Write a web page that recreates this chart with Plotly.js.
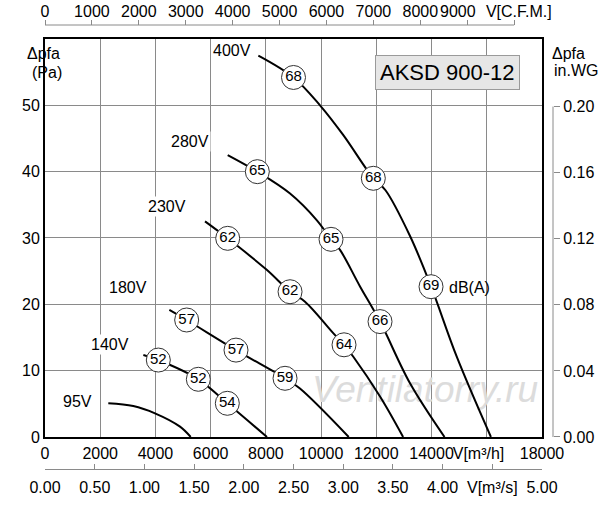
<!DOCTYPE html>
<html><head><meta charset="utf-8">
<script src="https://cdn.plot.ly/plotly-3.0.1.min.js"></script>
<style>html,body{margin:0;padding:0;background:#fff;}</style>
</head><body><div id="chart" style="width:600px;height:505px;"></div>
<script>
// ---- data (flow in m3/h, pressure in Pa) ----
const v400x = [7727, 9000, 9960, 10805, 11891, 12332, 13220, 13981, 14912, 16150];
const v400y = [57.5, 54.2, 50.0, 45.5, 39.0, 37.2, 30.3, 22.7, 12.1, 0];
const v280x = [6617, 7690, 8875, 9840, 10359, 10685, 11409, 12134, 13220, 14470];
const v280y = [42.5, 40.0, 36.7, 32.7, 29.8, 28.2, 22.7, 17.4, 8.1, 0];
const v230x = [5795, 6617, 8030, 8875, 9417, 10431, 10830, 11167, 12134, 12970];
const v230y = [32.5, 29.95, 25.2, 21.9, 20.4, 15.7, 13.9, 12.1, 6.1, 0];
const v180x = [4503, 5131, 6918, 8693, 9235, 11000];
const v180y = [19.15, 17.64, 13.1, 8.85, 7.3, 0];
const v140x = [3562, 4104, 5553, 6603, 8040];
const v140y = [12.36, 11.6, 8.7, 5.08, 0];
const v95x = [2293, 3197, 3984, 4890, 5277];
const v95y = [5.08, 4.67, 3.57, 1.56, 0];

const dbX = [9000, 11891, 13981, 7690, 10359, 12134, 6617, 8875, 10830, 5131, 6918, 8693, 4104, 5553, 6603];
const dbY = [54.2, 39.0, 22.66, 40.0, 29.8, 17.4, 29.95, 21.9, 13.9, 17.64, 13.1, 8.85, 11.6, 8.7, 5.08];
const dbText = ['68','68','69','65','65','66','62','62','64','57','57','59','52','52','54'];

const voltLabels = ['400V','280V','230V','180V','140V','95V'];

const gridX = [0,2000,4000,6000,8000,10000,12000,14000,16000,18000];
const flowLabelVals = [0,2000,4000,6000,8000,10000,12000,14000,15700,18000];
const flowLabels = ['0','2000','4000','6000','8000','10000','12000','14000','V[m³/h]','18000'];
const m3sVals = [0,0.5,1,1.5,2,2.5,3,3.5,4,4.5,5];
const m3sLabels = ['0.00','0.50','1.00','1.50','2.00','2.50','3.00','3.50','4.00','V[m³/s]','5.00'];
const cfmTicks = [0,1000,2000,3000,4000,5000,6000,7000,8000,9000,10000];
const cfmLabelVals = [0,1000,2000,3000,4000,5000,6000,7000,8000,8800,10100];
const cfmLabels = ['0','1000','2000','3000','4000','5000','6000','7000','8000','9000','V[C.F.M.]'];
const paVals = [0,10,20,30,40,50];
const paLabels = ['0','10','20','30','40','50'];
const wgVals = [0,0.04,0.08,0.12,0.16,0.20];
const wgLabels = ['0.00','0.04','0.08','0.12','0.16','0.20'];

const M3H_PER_CFM = 1.69901;
const PA_PER_INWG = 249.089;

const FONT = 'Liberation Sans, Arial, Helvetica, sans-serif';
const GRID = '#8a8a8a';
const AUX = '#8a8a8a';

function curve(x, y) {
  return {x: x, y: y, mode: 'lines', type: 'scatter', xaxis: 'x', yaxis: 'y',
    line: {color: '#000', width: 2, shape: 'spline', smoothing: 1}, hoverinfo: 'skip'};
}

const traces = [
  {x: [13763], y: [6.6], mode: 'text', text: ['Ventilatorry.ru'], type: 'scatter',
   textfont: {family: FONT, size: 37, color: '#dcdcdc', style: 'italic'}, hoverinfo: 'skip'},
  curve(v400x, v400y), curve(v280x, v280y), curve(v230x, v230y),
  curve(v180x, v180y), curve(v140x, v140y), curve(v95x, v95y),
  {x: dbX, y: dbY, text: dbText, mode: 'markers+text', type: 'scatter', textposition: 'middle center',
   marker: {size: 24, color: '#fff', line: {color: '#333', width: 1}},
   textfont: {family: FONT, size: 15, color: '#000'}, hoverinfo: 'skip'},
  {x: [], y: [], xaxis: 'x2', yaxis: 'y', type: 'scatter'},
  {x: [], y: [], xaxis: 'x3', yaxis: 'y', type: 'scatter'},
  {x: [], y: [], xaxis: 'x4', yaxis: 'y', type: 'scatter'},
  {x: [], y: [], xaxis: 'x5', yaxis: 'y', type: 'scatter'},
  {x: [], y: [], xaxis: 'x', yaxis: 'y2', type: 'scatter'}
];

const voltPos = [[6773, 58.3], [5252, 44.6], [4418, 34.7], [3006, 22.6], [2372, 13.9], [1184, 5.3]];
const annotations = voltLabels.map((t, i) => ({
  x: voltPos[i][0], y: voltPos[i][1], xref: 'x', yref: 'y', text: t, showarrow: false,
  bgcolor: '#fff', borderpad: 1, font: {family: FONT, size: 16, color: '#000'}
}));
annotations.push(
  {x: 14550, y: 22.6, xref: 'x', yref: 'y', xanchor: 'left', text: 'dB(A)', showarrow: false,
   font: {family: FONT, size: 16, color: '#000'}},
  {x: 14560, y: 55.0, xref: 'x', yref: 'y', text: 'AKSD 900-12', showarrow: false,
   bgcolor: '#e6e6e6', bordercolor: '#9a9a9a', borderwidth: 1, borderpad: 4,
   font: {family: FONT, size: 22, color: '#000'}},
  {x: -0.0394, y: 0.9595, xref: 'paper', yref: 'paper', text: 'Δpfa', showarrow: false,
   font: {family: FONT, size: 16, color: '#000'}},
  {x: -0.0305, y: 0.9167, xref: 'paper', yref: 'paper', text: '(Pa)', showarrow: false,
   font: {family: FONT, size: 16, color: '#000'}},
  {x: 0.994, y: 0.9595, xref: 'paper', yref: 'paper', xanchor: 'left', text: 'Δpfa', showarrow: false,
   font: {family: FONT, size: 16, color: '#000'}},
  {x: 0.998, y: 0.9212, xref: 'paper', yref: 'paper', xanchor: 'left', text: 'in.WG', showarrow: false,
   font: {family: FONT, size: 16, color: '#000'}}
);

const cfmRange = [0, 18000 / M3H_PER_CFM];

const layout = {
  width: 600, height: 505,
  margin: {l: 45, r: 47, t: 25, b: 36, pad: 0},
  paper_bgcolor: '#fff', plot_bgcolor: 'rgba(0,0,0,0)',
  showlegend: false,
  font: {family: FONT, size: 16, color: '#000'},
  xaxis: {domain: [0, 0.97835], range: [0, 18000], tickmode: 'array', tickvals: gridX,
    showticklabels: false, ticks: '', showgrid: true, gridcolor: GRID, gridwidth: 1,
    showline: true, linecolor: '#000', linewidth: 2, mirror: true, zeroline: false, fixedrange: true},
  xaxis4: {overlaying: 'x', anchor: 'y', side: 'bottom', range: [0, 18000], tickmode: 'array',
    tickvals: flowLabelVals, ticktext: flowLabels, ticks: '', showgrid: false, zeroline: false,
    showline: false, tickangle: 0, ticklabelstandoff: 5, tickfont: {family: FONT, size: 16}},
  xaxis2: {overlaying: 'x', anchor: 'free', position: 0, side: 'bottom', range: [0, 5], tickmode: 'array',
    tickvals: m3sVals, ticktext: m3sLabels, ticks: 'inside', ticklen: 5, tickcolor: AUX, tickwidth: 1,
    showline: true, linecolor: AUX, linewidth: 1, showgrid: false, zeroline: false, tickangle: 0,
    ticklabelstandoff: 4, tickfont: {family: FONT, size: 16}},
  xaxis3: {overlaying: 'x', anchor: 'free', position: 1, side: 'top', range: cfmRange,
    tickmode: 'array', tickvals: cfmTicks, showticklabels: false, ticks: 'outside', ticklen: 5,
    tickcolor: AUX, tickwidth: 1, showline: false, showgrid: false, zeroline: false},
  xaxis5: {overlaying: 'x', anchor: 'free', position: 1, side: 'top', range: cfmRange,
    tickmode: 'array', tickvals: cfmLabelVals, ticktext: cfmLabels, ticks: 'outside', ticklen: 5,
    tickcolor: 'rgba(0,0,0,0)', showline: false, showgrid: false, zeroline: false, tickangle: 0,
    ticklabelstandoff: -3, tickfont: {family: FONT, size: 16}},
  yaxis: {domain: [0.07207, 0.96847], range: [0, 60], tickmode: 'array', tickvals: paVals, ticktext: paLabels,
    ticks: '', showgrid: true, gridcolor: GRID, gridwidth: 1, showline: true, linecolor: '#000',
    linewidth: 2, mirror: true, zeroline: false, fixedrange: true, tickfont: {family: FONT, size: 16}},
  yaxis2: {overlaying: 'y', anchor: 'free', position: 1, side: 'right', range: [0, 60 / PA_PER_INWG],
    tickmode: 'array', tickvals: wgVals, ticktext: wgLabels, ticks: 'outside', ticklen: 6,
    tickcolor: AUX, tickwidth: 1, showline: false, showgrid: false, zeroline: false,
    tickfont: {family: FONT, size: 16}},
  shapes: [
    {type: 'line', xref: 'x3', yref: 'paper', x0: 0, x1: 10000, y0: 1, y1: 1, line: {color: AUX, width: 1}},
    {type: 'line', xref: 'paper', yref: 'y2', x0: 1, x1: 1, y0: 0, y1: 0.20, line: {color: AUX, width: 1}}
  ],
  annotations: annotations
};

Plotly.newPlot('chart', traces, layout, {displayModeBar: false, staticPlot: true});
</script>
</body></html>
